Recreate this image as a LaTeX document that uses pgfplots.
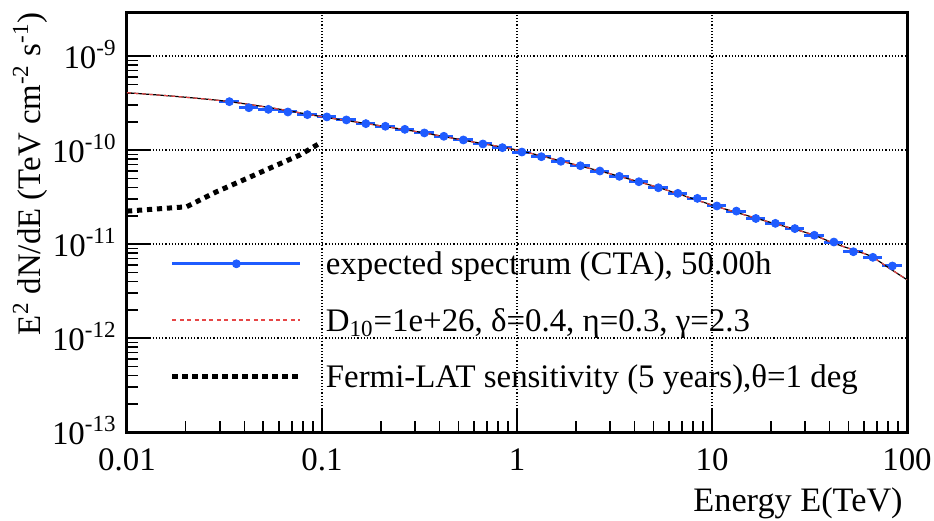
\documentclass[border=0pt]{standalone}
\usepackage{fontspec}
\setmainfont{Liberation Serif}
\newfontfamily\lserif{Liberation Serif}
\usepackage{pgfplots}
\pgfplotsset{compat=1.18}
\usetikzlibrary{calc}
\definecolor{ctablue}{RGB}{31,92,255}
\definecolor{modelred}{RGB}{230,70,70}
\newcommand{\chartfont}{\lserif\fontsize{16.5}{19}\selectfont}
\newcommand{\titlefont}{\lserif\fontsize{17.2}{20}\selectfont}
\begin{document}
\begin{tikzpicture}
\begin{axis}[
  scale only axis, width=390bp, height=210bp,
  xmode=log, ymode=log,
  xmin=0.01, xmax=100, ymin=1e-13, ymax=2.94e-9,
  axis line style={line width=1.5bp},
  xtick={0.01,0.1,1,10,100}, xticklabels={0.01,0.1,1,10,100},
  ytick={1e-13,1e-12,1e-11,1e-10,1e-9},
  yticklabels={10\textsuperscript{-13},10\textsuperscript{-12},10\textsuperscript{-11},10\textsuperscript{-10},10\textsuperscript{-9}},
  xtick pos=bottom, ytick pos=left, tick align=inside,
  major tick length=11bp, minor tick length=5.5bp,
  tick style={black, line width=0.8bp},
  grid=major,
  major grid style={black, line width=0.6bp, dash pattern=on 0.6bp off 1bp},
  every tick label/.append style={font=\chartfont, inner sep=0pt},
  xticklabel style={anchor=north, yshift=-8bp},
  yticklabel style={anchor=base east, xshift=-5bp, yshift=-6.2bp},
  xlabel={Energy E(TeV)},
  xlabel style={font=\titlefont, at={(rel axis cs:1,0)}, anchor=base east, inner sep=0pt, yshift=-39.8bp, xshift=-2bp},
  ylabel={E\textsuperscript{2} dN/dE (TeV cm\textsuperscript{-2} s\textsuperscript{-1})},
  ylabel style={font=\chartfont, at={([xshift=-41.5bp]rel axis cs:0,1)}, anchor=south east, inner sep=0pt, yshift=-2bp},
  legend cell align=left,
  legend style={draw=none, fill=none, font=\chartfont, inner sep=0pt, outer sep=0pt,
    at={(rel axis cs:0.055,0.411)}, anchor=north west,
    row sep=18.25bp, column sep=11.5bp,
    nodes={inner sep=0pt, text height=0.75em, text depth=0.25em}},
]
% CTA expected spectrum
\addplot[only marks, mark=*, mark size=2bp, color=ctablue,
  error bars/.cd, x dir=both, x fixed relative=0.115,
  error bar style={line width=1.5bp, ctablue}, error mark=none,
  /pgfplots/legend image code/.code={\draw[ctablue, line width=1.5bp] (0bp,3bp) -- (64bp,3bp); \fill[ctablue] (32bp,3bp) circle (2bp);}]
table {
x y
0.03350 3.27e-10
0.04217 2.82e-10
0.05309 2.71e-10
0.06683 2.54e-10
0.08414 2.38e-10
0.10593 2.25e-10
0.13335 2.09e-10
0.16788 1.91e-10
0.21135 1.79e-10
0.26607 1.66e-10
0.33497 1.52e-10
0.42170 1.40e-10
0.53088 1.28e-10
0.66834 1.16e-10
0.84140 1.06e-10
1.0593 9.52e-11
1.3335 8.49e-11
1.6788 7.59e-11
2.1135 6.81e-11
2.6607 5.98e-11
3.3497 5.25e-11
4.2170 4.60e-11
5.3088 3.97e-11
6.6834 3.46e-11
8.4140 3.06e-11
10.593 2.54e-11
13.335 2.24e-11
16.788 1.87e-11
21.135 1.66e-11
26.607 1.46e-11
33.497 1.24e-11
42.170 1.05e-11
53.088 8.28e-12
66.834 7.22e-12
84.140 5.84e-12
};
\addlegendentry{expected spectrum (CTA), 50.00h}
% model curve: black solid underneath
\addplot[black, line width=0.6bp, smooth, forget plot] table {
x y
0.01 4.07e-10
0.017783 3.72e-10
0.031623 3.32e-10
0.056234 2.79e-10
0.1 2.26e-10
0.17783 1.88e-10
0.31623 1.55e-10
0.56234 1.245e-10
1 1.0e-10
1.7783 7.41e-11
3.1623 5.43e-11
5.6234 3.85e-11
10 2.60e-11
17.783 1.82e-11
31.623 1.29e-11
42.17 1.02e-11
56.234 8.32e-12
66.07 7.33e-12
79.43 5.69e-12
100 4.17e-12
};
% model curve: red dashed
\addplot[modelred, line width=0.6bp, dash pattern=on 2bp off 1.7bp, smooth,
  /pgfplots/legend image code/.code={\draw[modelred, line width=0.8bp, dash pattern=on 2bp off 1.7bp] (0bp,3bp) -- (64bp,3bp);}]
table {
x y
0.01 4.07e-10
0.017783 3.72e-10
0.031623 3.32e-10
0.056234 2.79e-10
0.1 2.26e-10
0.17783 1.88e-10
0.31623 1.55e-10
0.56234 1.245e-10
1 1.0e-10
1.7783 7.41e-11
3.1623 5.43e-11
5.6234 3.85e-11
10 2.60e-11
17.783 1.82e-11
31.623 1.29e-11
42.17 1.02e-11
56.234 8.32e-12
66.07 7.33e-12
79.43 5.69e-12
100 4.17e-12
};
\addlegendentry{D\textsubscript{10}=1e+26, δ=0.4, η=0.3, γ=2.3}
% Fermi-LAT sensitivity
\addplot[black, line width=2.5bp, dash pattern=on 2.6bp off 2.4bp,
  /pgfplots/legend image code/.code={\draw[black, line width=2.5bp, dash pattern=on 2.6bp off 2.4bp] (0bp,3bp) -- (64bp,3bp);}]
table {
x y
0.01 2.24e-11
0.0202 2.49e-11
0.0288 3.6e-11
0.0395 4.8e-11
0.0562 6.65e-11
0.077 8.85e-11
0.1 1.22e-10
};
\addlegendentry{Fermi-LAT sensitivity (5 years),θ=1 deg}
\end{axis}
\pgfresetboundingbox
\path[use as bounding box] ($(current axis.south west)+(-63.5bp,-44bp)$) rectangle ($(current axis.north east)+(13.5bp,6bp)$);
\end{tikzpicture}
\end{document}
